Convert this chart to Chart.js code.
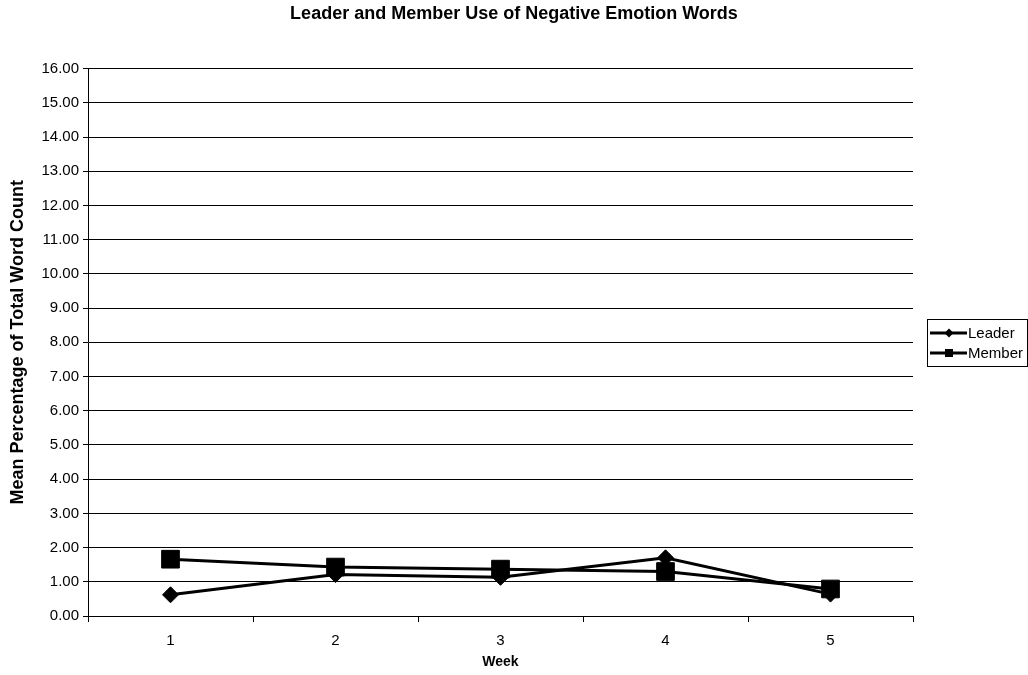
<!DOCTYPE html>
<html>
<head>
<meta charset="utf-8">
<script src="https://cdn.jsdelivr.net/npm/chart.js@4/dist/chart.umd.min.js"></script>
<style>
  html, body { margin: 0; padding: 0; background: #fff; }
  #wrap { width: 1028px; height: 675px; }
</style>
</head>
<body>
<div id="wrap"><canvas id="c" width="1028" height="675"></canvas></div>
<script>
// Weekly mean percentage of negative emotion words
const weeks = ['1', '2', '3', '4', '5'];
const leaderValues = [0.62, 1.21, 1.13, 1.70, 0.64];
const memberValues = [1.66, 1.43, 1.37, 1.30, 0.79];
const seriesNames = ['Leader', 'Member'];
const titleText = 'Leader and Member Use of Negative Emotion Words';
const yAxisTitle = 'Mean Percentage of Total Word Count';
const xAxisTitle = 'Week';

const FONT = '"Liberation Sans", Arial, sans-serif';

// Boxed legend at the right, each entry a line sample with its marker
const boxedLegend = {
  id: 'boxedLegend',
  afterDraw(chart) {
    const ctx = chart.ctx;
    const x0 = 927, y0 = 319, w = 101, h = 47;
    ctx.save();
    ctx.strokeStyle = '#000';
    ctx.lineWidth = 1;
    ctx.strokeRect(x0 + 0.5, y0 + 0.5, w - 1, h);
    ctx.font = '15px ' + FONT;
    ctx.textBaseline = 'middle';
    ctx.fillStyle = '#000';
    chart.data.datasets.forEach((ds, i) => {
      const y = y0 + 14 + i * 20;
      ctx.beginPath();
      ctx.lineWidth = 3;
      ctx.moveTo(x0 + 3, y);
      ctx.lineTo(x0 + 40, y);
      ctx.stroke();
      const cx = x0 + 22;
      ctx.beginPath();
      if (ds.pointStyle === 'rectRot') {
        const r = 4.5;
        ctx.moveTo(cx, y - r); ctx.lineTo(cx + r, y); ctx.lineTo(cx, y + r); ctx.lineTo(cx - r, y);
        ctx.closePath();
      } else {
        ctx.rect(cx - 4, y - 4, 8, 8);
      }
      ctx.fill();
      ctx.fillText(ds.label, x0 + 41, y + 1);
    });
    ctx.restore();
  }
};

new Chart(document.getElementById('c'), {
  type: 'line',
  data: {
    labels: weeks,
    datasets: [
      {
        label: seriesNames[0],
        data: leaderValues,
        borderColor: '#000',
        backgroundColor: '#000',
        borderWidth: 3,
        pointStyle: 'rectRot',
        pointRadius: 8,
        pointBorderWidth: 1,
        tension: 0
      },
      {
        label: seriesNames[1],
        data: memberValues,
        borderColor: '#000',
        backgroundColor: '#000',
        borderWidth: 3,
        pointStyle: 'rect',
        pointRadius: 12.5,
        pointBorderWidth: 1,
        tension: 0
      }
    ]
  },
  options: {
    responsive: false,
    animation: false,
    devicePixelRatio: 1,
    layout: { padding: 0 },
    plugins: {
      legend: { display: false },
      tooltip: { enabled: false },
      title: {
        display: true,
        text: titleText,
        color: '#000',
        font: { family: FONT, size: 18, weight: 'bold' },
        padding: { top: 3, bottom: 44 }
      }
    },
    scales: {
      x: {
        type: 'category',
        offset: true,
        grid: {
          offset: true,
          drawOnChartArea: false,
          drawTicks: true,
          tickLength: 6,
          color: '#000',
          lineWidth: 1
        },
        border: { display: true, color: '#000', width: 1 },
        ticks: {
          color: '#000',
          font: { family: FONT, size: 15 },
          padding: 10,
          maxRotation: 0
        },
        title: {
          display: true,
          text: xAxisTitle,
          color: '#000',
          font: { family: FONT, size: 14, weight: 'bold' },
          padding: { top: 4, bottom: 4 }
        },
        afterFit(scale) { scale.height = 59; }
      },
      y: {
        min: 0,
        max: 16,
        grid: {
          color: '#000',
          lineWidth: 1,
          drawTicks: true,
          tickLength: 5
        },
        border: { display: true, color: '#000', width: 1 },
        ticks: {
          stepSize: 1,
          color: '#000',
          font: { family: FONT, size: 15 },
          padding: 4,
          callback: (v) => Number(v).toFixed(2)
        },
        title: {
          display: true,
          text: yAxisTitle,
          color: '#000',
          font: { family: FONT, size: 18, weight: 'bold' },
          padding: { top: 7, bottom: 0 }
        },
        afterFit(scale) { scale.width = 88; }
      },
      // empty band on the right that holds the legend
      side: {
        type: 'linear',
        position: 'right',
        display: true,
        grid: { display: false, drawTicks: false },
        border: { display: false },
        ticks: { display: false },
        afterFit(scale) { scale.width = 115; }
      }
    }
  },
  plugins: [boxedLegend]
});
</script>
</body>
</html>
